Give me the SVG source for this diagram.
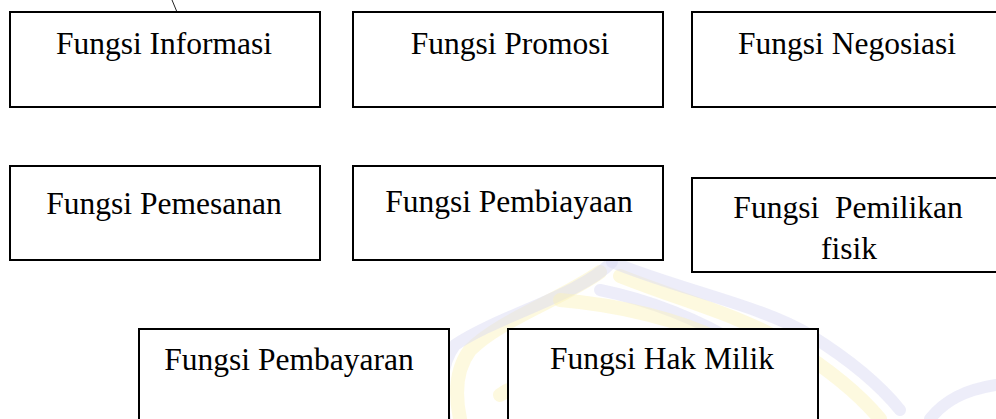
<svg xmlns="http://www.w3.org/2000/svg" width="996" height="419" viewBox="0 0 996 419">
<style>
.box{fill:#ffffff;stroke:#000000;stroke-width:2}
.lbl{font-family:"Liberation Serif","Times New Roman",serif;font-size:31.5px;fill:#000000;text-anchor:middle}
.wm-b{fill:none;stroke:#d6d6f2;stroke-width:12;stroke-linecap:round;opacity:0.45}
.wm-y{fill:none;stroke:#faf1b8;stroke-width:14;stroke-linecap:round;opacity:0.45}
</style>
<rect width="996" height="419" fill="#ffffff"/>
<g id="watermark">
<path class="wm-y" d="M600 272 C560 300 500 320 470 350 C455 370 455 395 460 419"/>
<path class="wm-b" d="M612 262 C580 295 500 315 455 345 C440 365 440 395 445 419"/>
<path class="wm-y" d="M620 276 C680 300 740 315 790 345 C830 370 860 395 880 419"/>
<path class="wm-b" d="M612 262 C680 290 760 305 810 335 C850 360 880 385 900 410"/>
<path class="wm-b" d="M600 290 C650 300 700 320 740 345"/>
<path class="wm-y" d="M560 300 C620 305 680 320 720 340"/>
<path class="wm-b" d="M930 419 C945 400 965 390 996 385"/>
<path class="wm-y" d="M500 395 C520 380 540 385 560 410"/>
</g>
<g id="connectors">
<line x1="172" y1="0" x2="177" y2="12" stroke="#222222" stroke-width="1"/>
</g>
<g id="n-informasi">
<rect class="box" x="10" y="12" width="310" height="95"/>
<text class="lbl" x="164" y="54">Fungsi Informasi</text>
</g>
<g id="n-promosi">
<rect class="box" x="353" y="12" width="310" height="95"/>
<text class="lbl" x="510" y="54">Fungsi Promosi</text>
</g>
<g id="n-negosiasi">
<rect class="box" x="692" y="12" width="312" height="95"/>
<text class="lbl" x="847" y="54">Fungsi Negosiasi</text>
</g>
<g id="n-pemesanan">
<rect class="box" x="10" y="166" width="310" height="94"/>
<text class="lbl" x="164" y="214">Fungsi Pemesanan</text>
</g>
<g id="n-pembiayaan">
<rect class="box" x="353" y="166" width="310" height="94"/>
<text class="lbl" x="509" y="212">Fungsi Pembiayaan</text>
</g>
<g id="n-pemilikan">
<rect class="box" x="692" y="178" width="312" height="94"/>
<text class="lbl" x="848" y="218" xml:space="preserve">Fungsi  Pemilikan</text>
<text class="lbl" x="849" y="259">fisik</text>
</g>
<g id="n-pembayaran">
<rect class="box" x="139" y="329" width="310" height="100"/>
<text class="lbl" x="289" y="370">Fungsi Pembayaran</text>
</g>
<g id="n-hakmilik">
<rect class="box" x="508" y="329" width="310" height="100"/>
<text class="lbl" x="662" y="369">Fungsi Hak Milik</text>
</g>
</svg>
